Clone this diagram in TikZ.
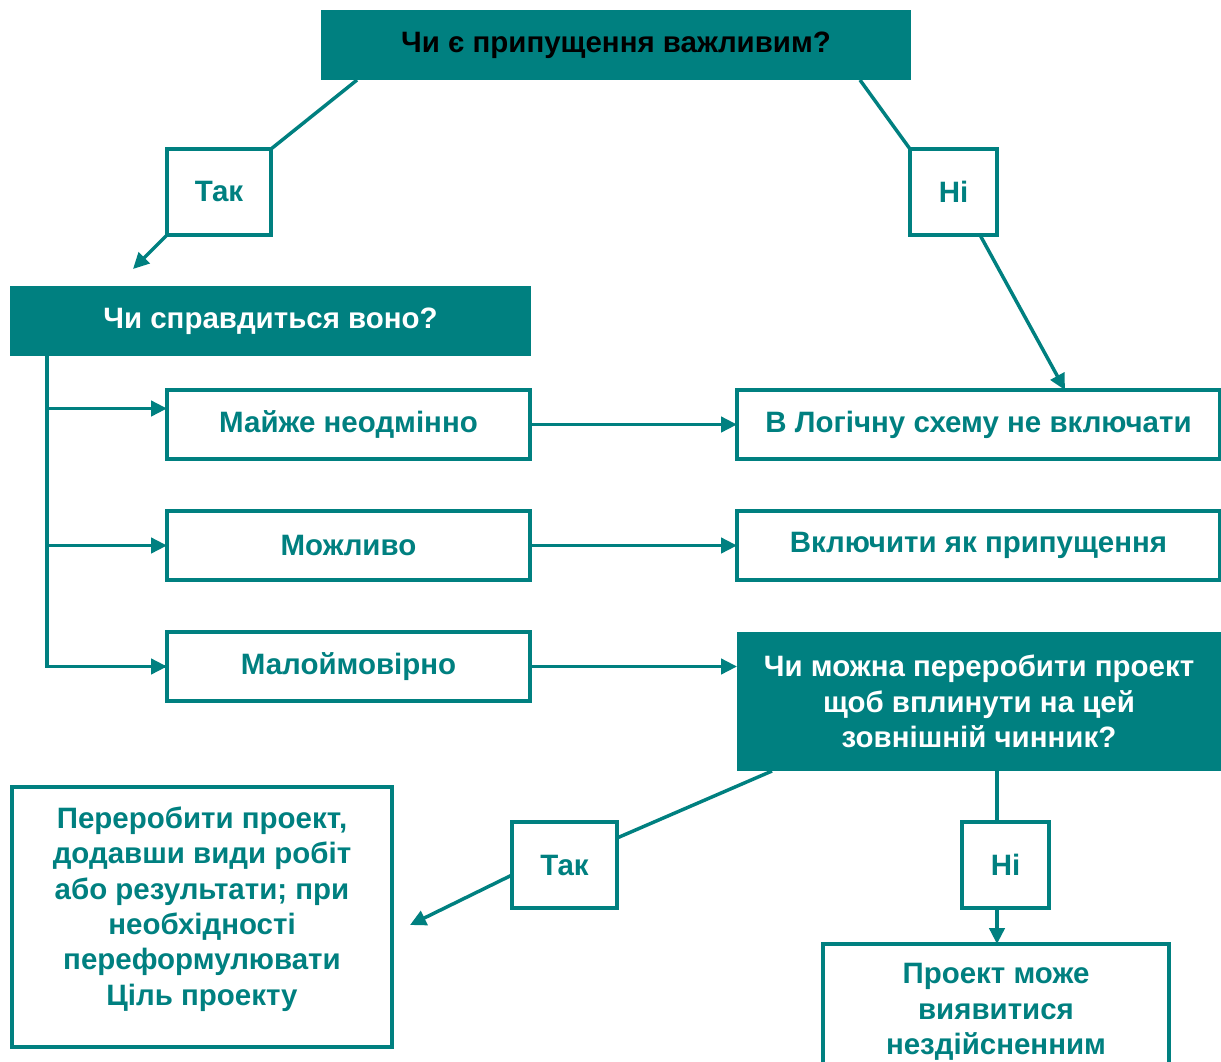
\documentclass[tikz,border=0pt]{standalone}
\usepackage{fontspec}
\setmainfont{Liberation Sans}
\usetikzlibrary{arrows.meta,calc}
\definecolor{teal}{RGB}{0,128,128}
\begin{document}
\begin{tikzpicture}[x=0.75pt,y=-0.75pt,
  every node/.style={inner sep=0pt,outer sep=0pt,font=\fontsize{22.1}{26.6}\selectfont\bfseries},
  sz/.style 2 args={minimum width=#1*0.75pt,minimum height=#2*0.75pt},
  box/.style={draw=teal,line width=2.6pt,fill=white,text=teal,align=center},
  qbox/.style={fill=teal,text=white,align=center},
  txt/.style={text=teal,align=center},
  link/.style={draw=teal,line width=2.6pt},
  arr/.style={link,-{Triangle[length=12pt,width=11.5pt]}}]
\clip (0,0) rectangle (1221,1061);
\fill[white] (0,0) rectangle (1221,1061);

% question boxes
\node[qbox,sz={590}{70},text=black] (q1) at (616,45) {Чи є припущення важливим?};
\node[qbox,sz={521}{70}] (q2) at (270.5,321) {Чи справдиться воно?};
\node[qbox,sz={484}{139}] (q3) at (979,701.5)
  {Чи можна переробити проект\\щоб вплинути на цей\\зовнішній чинник?};

% answer labels
\node[box,sz={104}{86}] (tak1) at (219,192) {\raisebox{-2.5pt}{Так}};
\node[box,sz={87}{86}] (ni1) at (953.5,192) {\raisebox{-2.5pt}{Ні}};
\node[box,sz={105}{86}] (tak2) at (564.5,865) {\raisebox{-2.5pt}{Так}};
\node[box,sz={87}{86}] (ni2) at (1005.5,865) {\raisebox{-2.5pt}{Ні}};

% likelihood boxes
\node[box,sz={363}{69}] (m1) at (348.5,424.5) {Майже неодмінно};
\node[box,sz={363}{69}] (m2) at (348.5,545.5) {Можливо};
\node[box,sz={363}{69}] (m3) at (348.5,666.5) {Малоймовірно};

% outcome boxes
\node[box,sz={483}{69}] (excl) at (978.5,424.5) {В Логічну схему не включати};
\node[box,sz={483}{69}] (incl) at (978.5,545.5) {Включити як припущення};
\node[box,sz={380}{260}] (redo) at (202,917) {};
\node[txt] (redotext) at (202,909) {Переробити проект,\\додавши види робіт\\або результати; при\\необхідності\\переформулювати\\Ціль проекту};
\node[box,sz={346}{136}] (infeas) at (996,1012) {Проект може\\виявитися\\нездійсненним};

% free arrow ends
\coordinate (tak1end) at (133,269);
\coordinate (tak2end) at (410,925);

% top question branches
\draw[link] ($(q1.south west)+(36,0)$) -- (tak1.north east);
\draw[arr] (tak1.south west) -- (tak1end);
\draw[link] ($(q1.south east)+(-51,0)$) -- (ni1.north west);
\draw[arr] ($(ni1.south east)+(-17,0)$) -- ($(excl.north west)+(328,0)$);

% likelihood tree
\coordinate (trunk) at ($(q2.south west)+(37,0)$);
\draw[link] (trunk) |- (m3.west);
\draw[arr] (trunk |- m3.west) -- (m3.west);
\draw[arr] (trunk |- m2.west) -- (m2.west);
\draw[arr] ($(trunk |- m1.west)+(0,-16)$) -- ($(m1.west)+(0,-16)$);

% likelihood to outcome
\draw[arr] (m1.east) -- (excl.west);
\draw[arr] (m2.east) -- (incl.west);
\draw[arr] (m3.east) -- (m3.east -| q3.west);

% redesign question branches
\draw[link] ($(q3.south west)+(35,0)$) -- ($(tak2.north east)+(0,16)$);
\draw[arr] ($(tak2.north west)+(0,53)$) -- (tak2end);
\coordinate (nitop) at ($(ni2.north)+(-8.5,0)$);
\coordinate (nibot) at ($(ni2.south)+(-8.5,0)$);
\draw[link] (nitop |- q3.south) -- (nitop);
\draw[arr] (nibot) -- (nibot |- infeas.north);
\end{tikzpicture}
\end{document}
